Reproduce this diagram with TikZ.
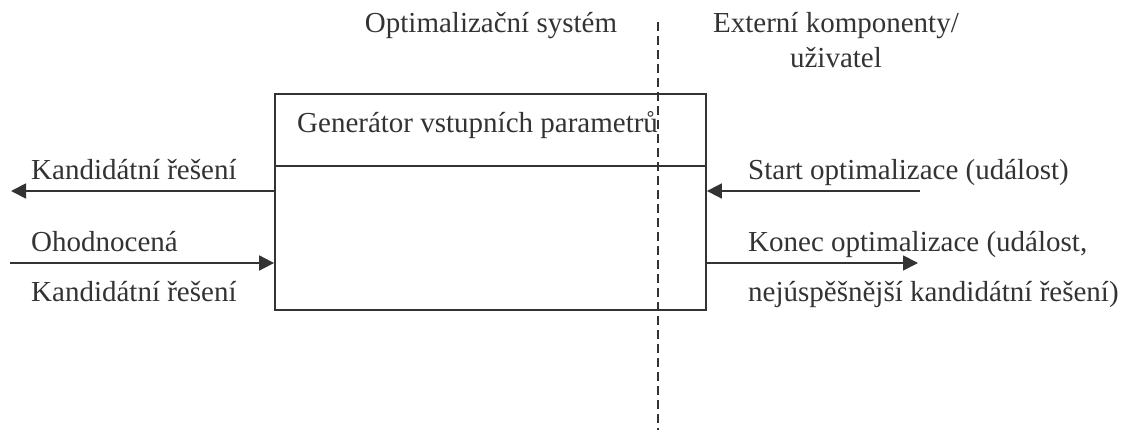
\documentclass[tikz,border=0pt]{standalone}
\usepackage{fontspec}
\setmainfont{Liberation Serif}
\usetikzlibrary{arrows.meta}
\definecolor{ink}{HTML}{333333}
\tikzset{
  lbl/.style={inner sep=0pt, anchor=base west, text=ink, font=\fontsize{29}{34}\selectfont},
  clbl/.style={lbl, anchor=base},
  frame/.style={draw=ink, line width=1.8pt},
  flow/.style={draw=ink, line width=1.8pt, -{Triangle[length=15pt,width=15pt]}},
  border/.style={draw=ink, line width=1.6pt, dash pattern=on 9pt off 5pt}
}
\begin{document}
\begin{tikzpicture}[x=1pt,y=-1pt]
  \useasboundingbox (0,0) rectangle (1130,430);

  % headings on either side of the system border
  \node[clbl] (sys) at (491,33) {Optimalizační systém};
  \node[clbl] (ext1) at (836,33) {Externí komponenty/};
  \node[clbl] (ext2) at (836,68) {uživatel};

  % the generator block with its name compartment
  \node[frame, minimum width=431pt, minimum height=216pt, inner sep=0pt] (gen) at (490.5,202) {};
  \coordinate (divL) at (275,166);
  \coordinate (divR) at (706,166);
  \draw[frame] (divL) -- (divR);
  \node[lbl] (genname) at (297,133) {Generátor vstupních parametrů};

  % inputs and outputs on the left
  \coordinate (outL) at (11,191);
  \coordinate (inL) at (10,263);
  \draw[flow] (gen.west |- outL) -- (outL);
  \draw[flow] (inL) -- (gen.west |- inL);
  \node[lbl] (cand) at (31,180) {Kandidátní řešení};
  \node[lbl] (eval1) at (31,252) {Ohodnocená};
  \node[lbl] (eval2) at (31,302) {Kandidátní řešení};

  % events on the right
  \coordinate (startR) at (920,191);
  \coordinate (endR) at (918,263);
  \draw[flow] (startR) -- (gen.east |- startR);
  \draw[flow] (gen.east |- endR) -- (endR);
  \node[lbl] (start) at (748,180) {Start optimalizace (událost)};
  \node[lbl] (end1) at (748,252) {Konec optimalizace (událost,};
  \node[lbl] (end2) at (748,302) {nejúspěšnější kandidátní řešení)};

  % system border
  \coordinate (bTop) at (658,22);
  \coordinate (bBot) at (658,430);
  \draw[border] (bTop) -- (bBot);
\end{tikzpicture}
\end{document}
